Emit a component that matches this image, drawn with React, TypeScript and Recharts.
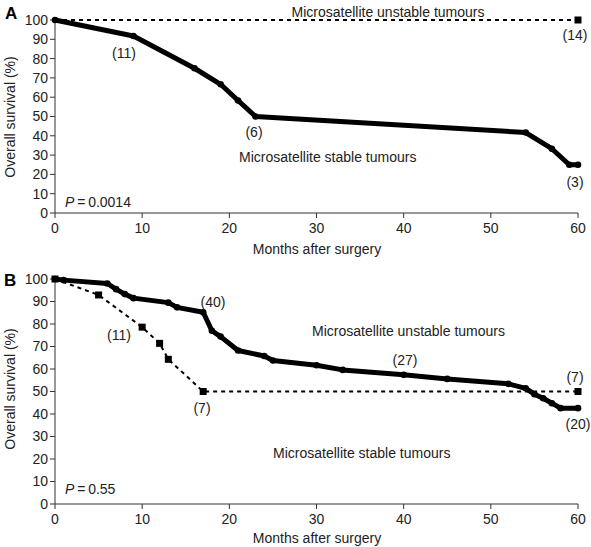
import { LineChart, Line, XAxis, YAxis } from 'recharts'

// panel A
const aMssMonths = [0, 9, 16, 19, 21, 23, 54, 57, 59, 60]
const aMssSurvival = [100, 91.7, 75, 66.7, 58.3, 50, 41.7, 33.3, 25, 25]
const aMsiMonths = [0, 60]
const aMsiSurvival = [100, 100]

// panel B
const bMssMonths = [0, 1, 6, 7, 8, 9, 13, 14, 17, 18, 19, 21, 24, 25, 30, 33, 40, 45, 52, 54, 55, 56, 57, 58, 60]
const bMssSurvival = [100, 99.5, 98, 95.5, 93.3, 91.5, 89.5, 87.4, 85.2, 77, 74.4, 68.2, 65.8, 63.8, 61.7, 59.6, 57.4, 55.6, 53.4, 51.4, 48.8, 47, 44.8, 42.6, 42.6]
const bMsiMonths = [0, 5, 10, 12, 13, 17, 60]
const bMsiSurvival = [100, 92.9, 78.6, 71.4, 64.3, 50, 50]

const xTicks = [0, 10, 20, 30, 40, 50, 60]
const yTicks = [0, 10, 20, 30, 40, 50, 60, 70, 80, 90, 100]

const FONT = '"Liberation Sans", Arial, Helvetica, sans-serif'
const AXIS = '#333'

const rows = (months: number[], surv: number[]) =>
  months.map((m, i) => ({ month: m, survival: surv[i] }))

function squareDot(onlyLast: boolean, count: number) {
  return (p: any) => {
    const { cx, cy, index } = p
    if (onlyLast && index !== count - 1) return <g key={`sq-${index}`} />
    return <rect key={`sq-${index}`} x={cx - 3.5} y={cy - 3.5} width={7} height={7} fill="#000" />
  }
}

const roundDot = (p: any) => (
  <circle key={`c-${p.index}`} cx={p.cx} cy={p.cy} r={3.3} fill="#000" />
)

interface PanelProps {
  height: number
  top: number
  bottom: number
  mss: { month: number; survival: number }[]
  msi: { month: number; survival: number }[]
  msiOnlyLast: boolean
}

function Panel({ height, top, bottom, mss, msi, msiOnlyLast }: PanelProps) {
  const tick = { fontSize: 14, fill: '#222', fontFamily: FONT }
  return (
    <LineChart width={591} height={height} margin={{ top, right: 13, bottom, left: 15 }}>
      <XAxis
        type="number"
        dataKey="month"
        domain={[0, 60]}
        ticks={xTicks}
        height={30}
        tick={tick}
        tickSize={5}
        tickMargin={5}
        stroke={AXIS}
        allowDuplicatedCategory={false}
      />
      <YAxis
        type="number"
        domain={[0, 100]}
        ticks={yTicks}
        width={40}
        tick={tick}
        tickSize={5}
        tickMargin={2}
        stroke={AXIS}
        interval={0}
      />
      <Line
        data={msi}
        dataKey="survival"
        stroke="#000"
        strokeWidth={2}
        strokeDasharray="4 4"
        dot={squareDot(msiOnlyLast, msi.length)}
        activeDot={false}
        isAnimationActive={false}
      />
      <Line
        data={mss}
        dataKey="survival"
        stroke="#000"
        strokeWidth={5}
        strokeLinejoin="round"
        dot={roundDot}
        activeDot={false}
        isAnimationActive={false}
      />
    </LineChart>
  )
}

function Note({ x, y, children, align = 'center' }: { x: number; y: number; children: any; align?: 'center' | 'left' }) {
  return (
    <div
      style={{
        position: 'absolute',
        left: x,
        top: y,
        transform: align === 'center' ? 'translate(-50%, -50%)' : 'translate(0, -50%)',
        fontFamily: FONT,
        fontSize: 14,
        color: '#222',
        whiteSpace: 'nowrap',
        lineHeight: 1,
      }}
    >
      {children}
    </div>
  )
}

function YLabel({ y }: { y: number }) {
  return (
    <div
      style={{
        position: 'absolute',
        left: 10,
        top: y,
        transform: 'translate(-50%, -50%) rotate(-90deg)',
        fontFamily: FONT,
        fontSize: 14,
        color: '#222',
        whiteSpace: 'nowrap',
        lineHeight: 1,
      }}
    >
      Overall survival (%)
    </div>
  )
}

export default function App() {
  return (
    <div style={{ position: 'absolute', left: 0, top: 0, width: 591, height: 547, background: '#fff' }}>
      <div style={{ position: 'absolute', left: 0, top: 0 }}>
        <Panel height={260} top={20} bottom={17} mss={rows(aMssMonths, aMssSurvival)} msi={rows(aMsiMonths, aMsiSurvival)} msiOnlyLast />
      </div>
      <div style={{ position: 'absolute', left: 0, top: 260 }}>
        <Panel height={287} top={19} bottom={13} mss={rows(bMssMonths, bMssSurvival)} msi={rows(bMsiMonths, bMsiSurvival)} msiOnlyLast={false} />
      </div>

      <div style={{ position: 'absolute', left: 5, top: 5, fontFamily: FONT, fontWeight: 'bold', fontSize: 17, lineHeight: 1 }}>A</div>
      <div style={{ position: 'absolute', left: 4, top: 272, fontFamily: FONT, fontWeight: 'bold', fontSize: 17, lineHeight: 1 }}>B</div>

      <YLabel y={117} />
      <YLabel y={389} />
      <Note x={317} y={249}>Months after surgery</Note>
      <Note x={317} y={538}>Months after surgery</Note>

      {/* panel A notes */}
      <Note x={388} y={12}>Microsatellite unstable tumours</Note>
      <Note x={575} y={35}>(14)</Note>
      <Note x={124} y={53}>(11)</Note>
      <Note x={254} y={132}>(6)</Note>
      <Note x={239} y={157} align="left">Microsatellite stable tumours</Note>
      <Note x={575} y={182}>(3)</Note>
      <Note x={65} y={202} align="left"><i>P</i>{'\u2009=\u20090.0014'}</Note>

      {/* panel B notes */}
      <Note x={213} y={302}>(40)</Note>
      <Note x={119} y={335}>(11)</Note>
      <Note x={202} y={408}>(7)</Note>
      <Note x={312} y={331} align="left">Microsatellite unstable tumours</Note>
      <Note x={405} y={360}>(27)</Note>
      <Note x={575} y={377}>(7)</Note>
      <Note x={578} y={424}>(20)</Note>
      <Note x={273} y={453} align="left">Microsatellite stable tumours</Note>
      <Note x={65} y={489} align="left"><i>P</i>{'\u2009=\u20090.55'}</Note>
    </div>
  )
}
